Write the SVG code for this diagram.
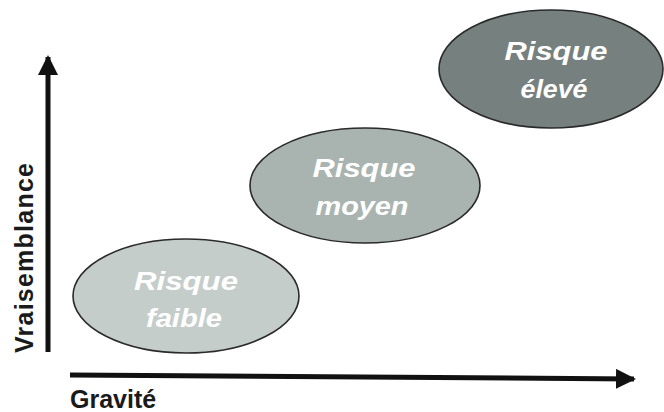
<svg xmlns="http://www.w3.org/2000/svg" width="664" height="412" viewBox="0 0 664 412">
  <style>
    .axis { stroke: #111; stroke-width: 5; fill: none; }
    .ell { stroke: #2a2a2a; stroke-width: 1.6; }
    .lbl { font-family: "Liberation Sans", Arial, sans-serif; font-weight: bold; font-style: italic; font-size: 26px; fill: #ffffff; text-anchor: middle; }
    .axlbl { font-family: "Liberation Sans", Arial, sans-serif; font-weight: bold; font-size: 25px; fill: #1a1a1a; }
  </style>
  <defs>
    <marker id="arrow" viewBox="0 0 10 10" refX="9" refY="5" markerWidth="4" markerHeight="4" markerUnits="strokeWidth" orient="auto">
      <path d="M0,0 L10,5 L0,10 Z" fill="#111"/>
    </marker>
  </defs>
  <rect width="664" height="412" fill="#ffffff"/>

  <g id="connectors">
    <line class="axis" x1="48" y1="352" x2="48" y2="57" marker-end="url(#arrow)"/>
    <line class="axis" x1="70" y1="375" x2="634" y2="379" marker-end="url(#arrow)"/>
  </g>

  <g id="axis-x-label">
    <text class="axlbl" x="70" y="408">Gravité</text>
  </g>
  <g id="axis-y-label">
    <text class="axlbl" transform="translate(33,353) rotate(-90)" x="0" y="0" font-size="26" textLength="190" lengthAdjust="spacing">Vraisemblance</text>
  </g>

  <g id="risque-faible">
    <ellipse class="ell" cx="186" cy="296" rx="113" ry="57" fill="#c5cdcb"/>
    <text class="lbl" x="186" y="290" textLength="104" lengthAdjust="spacingAndGlyphs">Risque</text>
    <text class="lbl" x="184" y="327" textLength="76" lengthAdjust="spacingAndGlyphs">faible</text>
  </g>

  <g id="risque-moyen">
    <ellipse class="ell" cx="365" cy="185.5" rx="115" ry="57.5" fill="#a9b4b1"/>
    <text class="lbl" x="364" y="177" textLength="103" lengthAdjust="spacingAndGlyphs">Risque</text>
    <text class="lbl" x="362" y="215" textLength="93" lengthAdjust="spacingAndGlyphs">moyen</text>
  </g>

  <g id="risque-eleve">
    <ellipse class="ell" cx="551" cy="69" rx="112" ry="59" fill="#75807f"/>
    <text class="lbl" x="556" y="60" textLength="103" lengthAdjust="spacingAndGlyphs">Risque</text>
    <text class="lbl" x="554" y="98" textLength="67" lengthAdjust="spacingAndGlyphs">élevé</text>
  </g>
</svg>
